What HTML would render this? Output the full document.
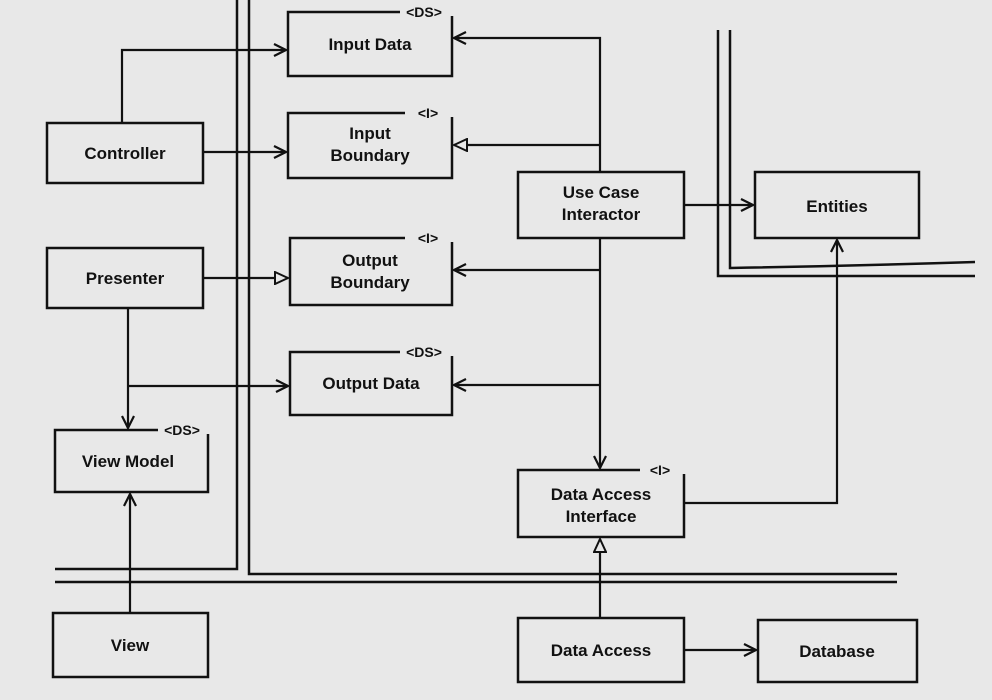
<!DOCTYPE html>
<html><head><meta charset="utf-8"><style>
html,body{margin:0;padding:0;background:#e8e8e8;}
svg{display:block}
text{font-family:"Liberation Sans",sans-serif;font-weight:bold;fill:#111;font-size:17px;text-anchor:middle}
.st{font-size:14px}
</style></head><body>
<svg width="992" height="700" viewBox="0 0 992 700">
<defs>
<marker id="a" markerWidth="14" markerHeight="14" refX="13" refY="7" orient="auto" markerUnits="userSpaceOnUse"><path d="M1,1 L13,7 L1,13" fill="none" stroke="#111" stroke-width="2.2"/></marker>
<marker id="t" markerWidth="16" markerHeight="14" refX="14" refY="7" orient="auto" markerUnits="userSpaceOnUse"><path d="M1,1 L14,7 L1,13 Z" fill="#e8e8e8" stroke="#111" stroke-width="2"/></marker>
</defs>
<rect width="992" height="700" fill="#e8e8e8"/>
<g fill="none" stroke="#111" stroke-width="2.5">
<!-- boundary double lines -->
<path d="M237,0 V569 H55"/>
<path d="M249,0 V574 H897"/>
<path d="M55,582 H897"/>
<path d="M718,30 V276 H975"/>
<path d="M730,30 V268 Q850,266 975,262"/>
<!-- plain boxes -->
<rect x="47" y="123" width="156" height="60"/>
<rect x="47" y="248" width="156" height="60"/>
<rect x="518" y="172" width="166" height="66"/>
<rect x="755" y="172" width="164" height="66"/>
<rect x="53" y="613" width="155" height="64"/>
<rect x="518" y="618" width="166" height="64"/>
<rect x="758" y="620" width="159" height="62"/>
<!-- stereotype boxes -->
<path d="M400,12 H288 V76 H452 V16"/>
<path d="M405,113 H288 V178 H452 V117"/>
<path d="M405,238 H290 V305 H452 V242"/>
<path d="M400,352 H290 V415 H452 V356"/>
<path d="M158,430 H55 V492 H208 V434"/>
<path d="M640,470 H518 V537 H684 V474"/>
</g>
<g fill="none" stroke="#111" stroke-width="2.2">
<path d="M122,123 V50 H286" marker-end="url(#a)"/>
<path d="M203,152 H286" marker-end="url(#a)"/>
<path d="M600,172 V38 H454" marker-end="url(#a)"/>
<path d="M600,145 H454" marker-end="url(#t)"/>
<path d="M600,238 V468" marker-end="url(#a)"/>
<path d="M600,270 H454" marker-end="url(#a)"/>
<path d="M600,385 H454" marker-end="url(#a)"/>
<path d="M684,205 H753" marker-end="url(#a)"/>
<path d="M684,503 H837 V240" marker-end="url(#a)"/>
<path d="M203,278 H288" marker-end="url(#t)"/>
<path d="M128,308 V428" marker-end="url(#a)"/>
<path d="M128,386 H288" marker-end="url(#a)"/>
<path d="M130,613 V494" marker-end="url(#a)"/>
<path d="M600,618 V539" marker-end="url(#t)"/>
<path d="M684,650 H756" marker-end="url(#a)"/>
</g>
<g>
<text x="370" y="50" font-size="15">Input Data</text>
<text x="370" y="139">Input</text><text x="370" y="161">Boundary</text>
<text x="125" y="159">Controller</text>
<text x="601" y="198">Use Case</text><text x="601" y="220">Interactor</text>
<text x="837" y="212">Entities</text>
<text x="125" y="284">Presenter</text>
<text x="370" y="266">Output</text><text x="370" y="288">Boundary</text>
<text x="371" y="389" font-size="15">Output Data</text>
<text x="128" y="467" font-size="15">View Model</text>
<text x="601" y="500">Data Access</text><text x="601" y="522">Interface</text>
<text x="130" y="651">View</text>
<text x="601" y="656">Data Access</text>
<text x="837" y="657">Database</text>
<text class="st" x="424" y="17">&lt;DS&gt;</text>
<text class="st" x="428" y="118">&lt;I&gt;</text>
<text class="st" x="428" y="243">&lt;I&gt;</text>
<text class="st" x="424" y="357">&lt;DS&gt;</text>
<text class="st" x="182" y="435">&lt;DS&gt;</text>
<text class="st" x="660" y="475">&lt;I&gt;</text>
</g>
</svg>
</body></html>
